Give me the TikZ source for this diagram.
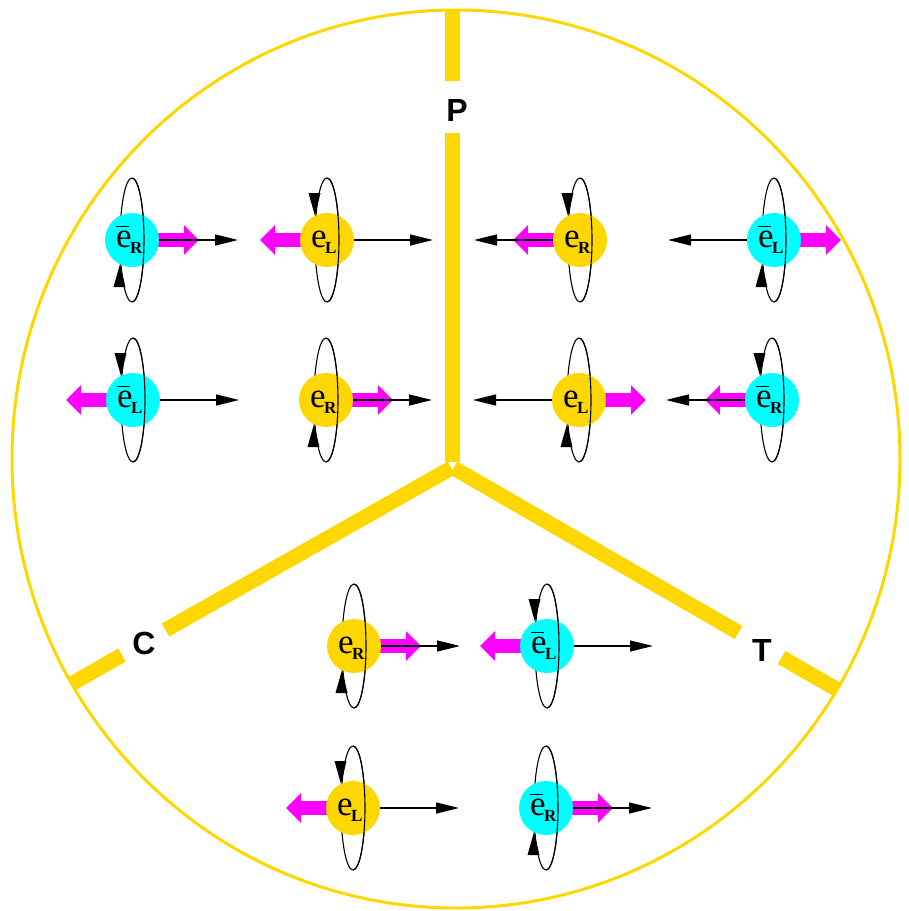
\documentclass[tikz,border=0pt]{standalone}
\usepackage{fontspec}
\setmainfont{Liberation Serif}
\newfontfamily\axisfont{Liberation Sans}
\usetikzlibrary{arrows.meta,calc}

\definecolor{gold}{RGB}{255,215,0}
\definecolor{pcyan}{RGB}{0,255,255}
\definecolor{pmag}{RGB}{255,0,255}

% particle labels: e with a subscript, and the barred antiparticle
\newcommand\lept[1]{\fontsize{35pt}{35pt}\selectfont e\kern-1.5pt\raisebox{-6pt}{\fontsize{17pt}{17pt}\selectfont\bfseries #1}}
\newcommand\alept[1]{\fontsize{35pt}{35pt}\selectfont\makebox[0pt][l]{\rule[20pt]{13pt}{1.3pt}}e\kern-1.5pt\raisebox{-6pt}{\fontsize{17pt}{17pt}\selectfont\bfseries #1}}

\tikzset{
  ball/.style={circle, minimum size=54pt, inner sep=0pt},
  spin/.style={line width=1.1pt},
  beam/.style={line width=1.3pt, -{Triangle[length=23pt,width=11pt]}},
  pol/.style={pmag, line width=14pt, -{Triangle[length=15pt,width=29pt]}},
  axis/.style={gold, line width=15pt},
  rim/.style={gold, line width=3pt},
  axislabel/.style={font=\axisfont\bfseries\fontsize{32pt}{32pt}\selectfont, inner sep=0pt},
}

% #1 name, #2 x, #3 y, #4 colour, #5 label,
% #6 spin direction (+1 right / -1 left), #7 momentum direction,
% #8 rotation arrow (+1 lower left pointing up, -1 upper left pointing down)
\newcommand\particle[8]{%
  \coordinate (#1c) at (#2,#3);
  \coordinate (#1m) at ($(#1c)+({(#6)*67},0)$);
  \coordinate (#1b) at ($(#1c)+({(#7)*106},0)$);
  \draw[spin] (#1c) ellipse [x radius=12pt, y radius=62pt];
  \draw[pol] (#1c) -- (#1m);
  \node[ball, fill=#4] (#1) at (#1c) {};
  \draw[beam] (#1) -- (#1b);
  \draw[spin] ($(#1c)+(0,-62)$) arc [start angle=90, end angle=-90, x radius=12pt, y radius=62pt];
  \fill ($(#1c)+(-12,{(#8)*24})$) -- ($(#1c)+(-18.5,{(#8)*47})$) -- ($(#1c)+(-6.5,{(#8)*47})$) -- cycle;
  \node[anchor=base west, inner sep=0pt] (#1t) at ($(#1c)+(-16,7)$) {#5};
}

\begin{document}
\begin{tikzpicture}[x=1pt, y=-1pt]
  \useasboundingbox (0,0) rectangle (909,911);

  % outer rim
  \draw[rim] (456,459) ellipse [x radius=444pt, y radius=449pt];

  % the three axes, broken around their letters
  \coordinate (top) at (452.5,11);
  \coordinate (pa) at (452.5,81);
  \coordinate (pb) at (452.5,133);
  \coordinate (hub) at (452.5,462);
  \coordinate (hubl) at (451.5,468);
  \coordinate (hubr) at (453.5,468);
  \coordinate (ca) at (165.5,630);
  \coordinate (cb) at (122,655);
  \coordinate (cend) at (73,683);
  \coordinate (ta) at (738.5,632.5);
  \coordinate (tb) at (781.5,657.5);
  \coordinate (tend) at (838,690);

  \draw[axis] (top) -- (pa);
  \draw[axis] (pb) -- (hub);
  \draw[axis] (hubl) -- (ca);
  \draw[axis] (cb) -- (cend);
  \draw[axis] (hubr) -- (ta);
  \draw[axis] (tb) -- (tend);

  \node[axislabel] (P) at (457,110) {P};
  \node[axislabel] (C) at (144,643) {C};
  \node[axislabel] (T) at (762,650) {T};

  % upper sector
  \particle{a1}{132}{240}{pcyan}{\alept{R}}{1}{1}{1}
  \particle{a2}{327}{240}{gold}{\lept{L}}{-1}{1}{-1}
  \particle{a3}{580}{240}{gold}{\lept{R}}{-1}{-1}{-1}
  \particle{a4}{774}{240}{pcyan}{\alept{L}}{1}{-1}{1}
  \particle{b1}{133}{400}{pcyan}{\alept{L}}{-1}{1}{-1}
  \particle{b2}{326}{400}{gold}{\lept{R}}{1}{1}{1}
  \particle{b3}{579}{400}{gold}{\lept{L}}{1}{-1}{1}
  \particle{b4}{772}{400}{pcyan}{\alept{R}}{-1}{-1}{-1}

  % lower sector
  \particle{c1}{354}{646}{gold}{\lept{R}}{1}{1}{1}
  \particle{c2}{547}{646}{pcyan}{\alept{L}}{-1}{1}{-1}
  \particle{d1}{353}{808}{gold}{\lept{L}}{-1}{1}{-1}
  \particle{d2}{546}{808}{pcyan}{\alept{R}}{1}{1}{1}
\end{tikzpicture}
\end{document}
